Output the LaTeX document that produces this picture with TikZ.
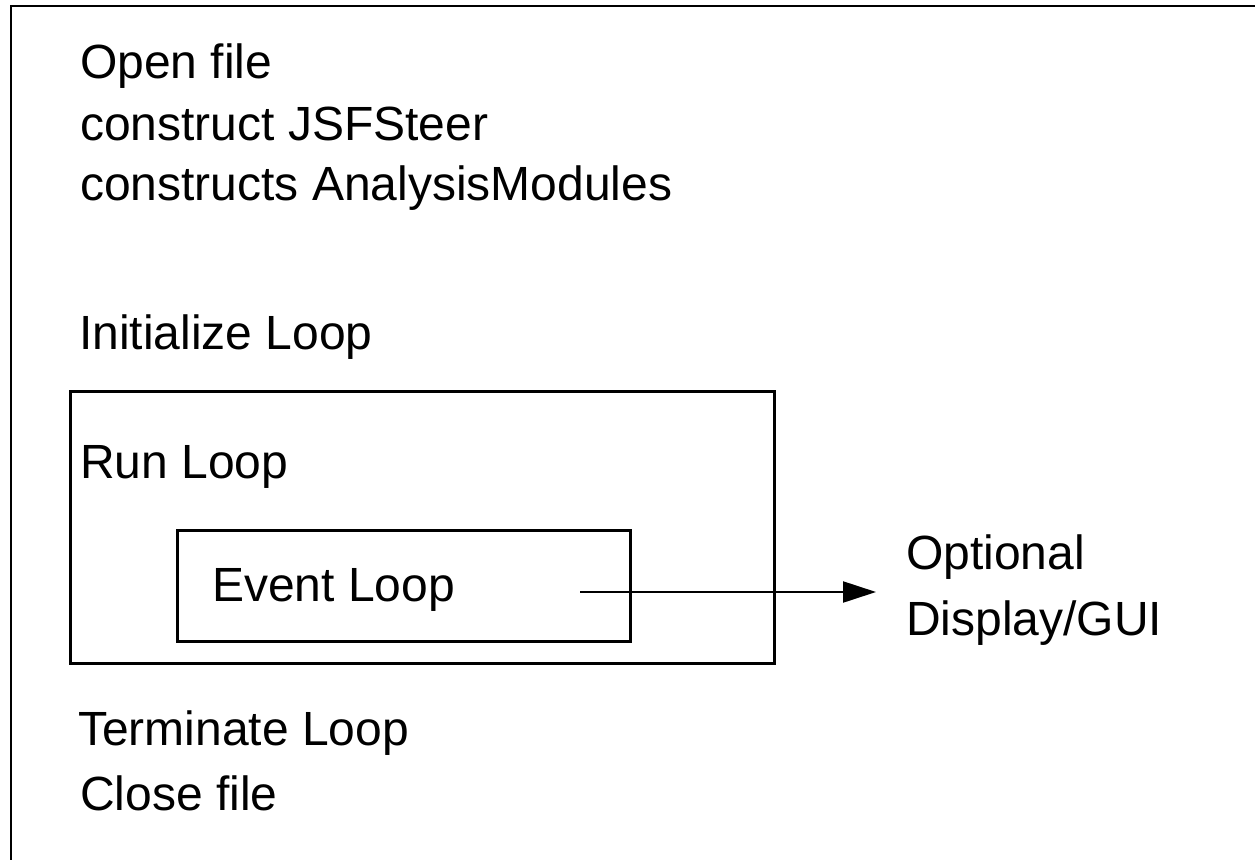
\documentclass[tikz,border=0pt]{standalone}
\usepackage{fontspec}
\setmainfont{Liberation Sans}
\usetikzlibrary{arrows.meta}
\begin{document}
\begin{tikzpicture}[x=1pt,y=-1pt,
  lbl/.style={inner sep=0pt,anchor=base west,font=\fontsize{48}{57}\selectfont},
  boxline/.style={draw=black,line width=2.5pt},
  arr/.style={line width=2.2pt,-{Triangle[length=33pt,width=21pt]}}]
\clip (0,0) rectangle (1255,859);
\fill[white] (0,0) rectangle (1255,859);
% outer frame (open to right and bottom)
\draw[boxline] (11,880) -- (11,6) -- (1280,6);
\node[lbl] (open) at (80,78) {Open file};
\node[lbl] (steer) at (80,140) {construct JSFSteer};
\node[lbl] (mods) at (80,200) {constructs AnalysisModules};
\node[lbl] (init) at (79,349) {Initialize Loop};
\node[boxline,anchor=north west,inner sep=0pt,minimum width=704pt,minimum height=272pt] (runbox) at (69,390) {};
\node[lbl] (run) at (80,478) {Run Loop};
\node[boxline,anchor=north west,inner sep=0pt,minimum width=453pt,minimum height=111pt] (eventbox) at (176,529) {};
\node[lbl] (event) at (212,601) {Event Loop};
\node[lbl] (opt) at (906,569) {Optional};
\node[lbl] (gui) at (906,635) {Display/GUI};
\node[lbl] (term) at (78,745) {Terminate Loop};
\node[lbl] (close) at (80,810) {Close file};
\coordinate (astart) at (580,592);
\coordinate (aend) at (876,592);
\draw[arr] (astart) -- (aend);
\end{tikzpicture}
\end{document}
